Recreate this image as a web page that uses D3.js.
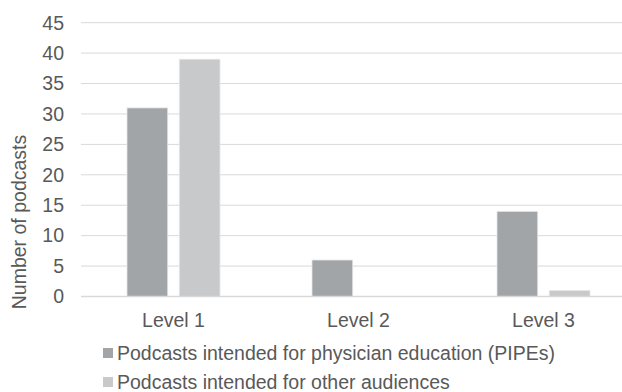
<!DOCTYPE html>
<html>
<head>
<meta charset="utf-8">
<script src="https://cdn.jsdelivr.net/npm/d3@7"></script>
<style>
  body { margin: 0; background: #fff; }
  svg { display: block; font-family: "Liberation Sans", Arial, sans-serif; }
  .axis-txt { fill: #595959; font-size: 19.5px; }
</style>
</head>
<body>
<div id="chart"></div>
<script>
// chart data
const levels = ["Level 1", "Level 2", "Level 3"];
const seriesNames = [
  "Podcasts intended for physician education (PIPEs)",
  "Podcasts intended for other audiences"
];
const pipeVals = [31, 6, 14];
const otherVals = [39, 0, 1];
const yTicks = [0, 5, 10, 15, 20, 25, 30, 35, 40, 45];

const colors = ["#a2a5a7", "#c8c9ca"];
const W = 622, H = 392;
const m = { top: 22.7, left: 81, bottom: 296.5, right: 636 };

const svg = d3.select("#chart").append("svg")
  .attr("width", W).attr("height", H).attr("viewBox", `0 0 ${W} ${H}`);

const y = d3.scaleLinear().domain([0, 45]).range([m.bottom, m.top]);
const x0 = d3.scaleBand().domain(levels).range([m.left, m.right])
  .paddingInner(0.497).paddingOuter(0.2485);
const x1 = d3.scaleBand().domain(d3.range(seriesNames.length))
  .range([0, x0.bandwidth()]).paddingInner(0.22);

// gridlines
svg.append("g").selectAll("line").data(yTicks.filter(d => d > 0)).join("line")
  .attr("x1", m.left).attr("x2", m.right).attr("y1", y).attr("y2", y)
  .attr("stroke", "#d9d9d9").attr("stroke-width", 1);

// y tick labels
svg.append("g").selectAll("text").data(yTicks).join("text")
  .attr("class", "axis-txt").attr("x", 64).attr("y", y)
  .attr("dy", "0.35em").attr("text-anchor", "end").text(d => d);

// bars
const rows = levels.map((lv, i) => ({ lv, vals: [pipeVals[i], otherVals[i]] }));
const grp = svg.append("g").selectAll("g").data(rows).join("g")
  .attr("transform", d => `translate(${x0(d.lv)},0)`);
grp.selectAll("rect").data(d => d.vals.map((v, k) => ({ v, k })).filter(e => e.v > 0)).join("rect")
  .attr("x", d => x1(d.k)).attr("width", x1.bandwidth())
  .attr("y", d => y(d.v)).attr("height", d => y(0) - y(d.v))
  .attr("fill", d => colors[d.k]).attr("stroke", "#e9e9e9").attr("stroke-width", 0.8);

// baseline
svg.append("line").attr("x1", m.left).attr("x2", m.right)
  .attr("y1", y(0)).attr("y2", y(0))
  .attr("stroke", "#d9d9d9").attr("stroke-width", 1.6);

// x labels
svg.append("g").selectAll("text").data(levels).join("text")
  .attr("class", "axis-txt").attr("x", d => x0(d) + x0.bandwidth() / 2)
  .attr("y", 327).attr("text-anchor", "middle").text(d => d);

// y title
svg.append("text").attr("class", "axis-txt")
  .attr("transform", "translate(26,222) rotate(-90)")
  .attr("text-anchor", "middle").text("Number of podcasts");

// legend
const leg = svg.append("g").selectAll("g").data(seriesNames).join("g")
  .attr("transform", (d, i) => `translate(103,${353 + i * 29})`);
leg.append("rect").attr("x", 0).attr("y", -5).attr("width", 10).attr("height", 10)
  .attr("fill", (d, i) => colors[i]);
leg.append("text").attr("class", "axis-txt").attr("x", 14).attr("dy", "0.35em").text(d => d);
</script>
</body>
</html>
